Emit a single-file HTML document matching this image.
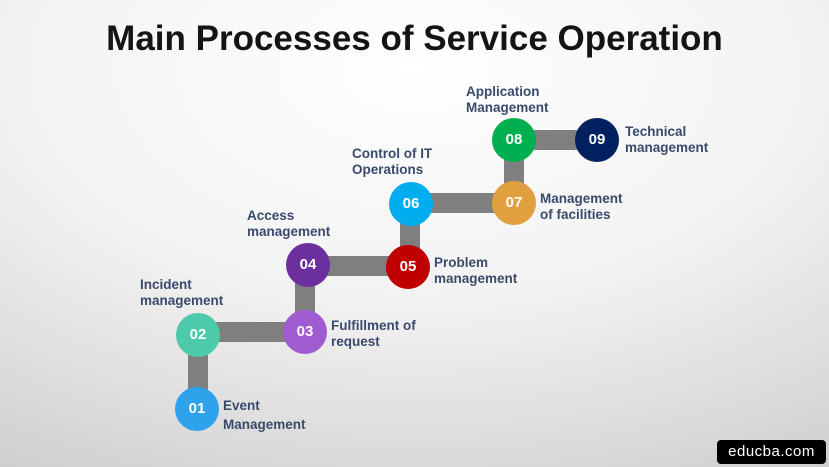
<!DOCTYPE html>
<html><head><style>
body{margin:0;width:829px;height:467px;overflow:hidden;font-family:"Liberation Sans",sans-serif;
background:radial-gradient(ellipse 900px 520px at 50% 15%,#ffffff 0%,#f2f2f2 45%,#d2d2d2 85%,#c6c6c6 100%);position:relative}
.t{position:absolute;top:19px;left:0;width:829px;text-align:center;font-weight:bold;font-size:35px;color:#141414;letter-spacing:0px}
.b{position:absolute;background:#7f7f7f}
.c{position:absolute;width:44px;height:44px;border-radius:50%;color:#fff;font-weight:bold;font-size:15px;line-height:44px;text-align:center}
.l{position:absolute;font-weight:bold;font-size:13.5px;color:#3b4a6b;line-height:16px}
.bd{position:absolute;left:717px;top:440px;width:109px;height:24px;background:#000;border-radius:4px;color:#fff;font-size:15px;line-height:24px;text-align:center;letter-spacing:0.5px}
</style></head><body>
<div class="t">Main Processes of Service Operation</div>
<div class="b" style="left:188px;top:335px;width:20px;height:74px"></div>
<div class="b" style="left:198px;top:322px;width:107px;height:20px"></div>
<div class="b" style="left:295px;top:265px;width:20px;height:67px"></div>
<div class="b" style="left:308px;top:256px;width:100px;height:20px"></div>
<div class="b" style="left:400px;top:204px;width:20px;height:63px"></div>
<div class="b" style="left:411px;top:193px;width:103px;height:20px"></div>
<div class="b" style="left:504px;top:140px;width:20px;height:63px"></div>
<div class="b" style="left:514px;top:130px;width:83px;height:20px"></div>
<div class="c" style="left:175px;top:387px;background:#2ea3ec">01</div>
<div class="c" style="left:176px;top:313px;background:#4ccaa9">02</div>
<div class="c" style="left:283px;top:310px;background:#a05bd0">03</div>
<div class="c" style="left:286px;top:243px;background:#6b2f9e">04</div>
<div class="c" style="left:386px;top:245px;background:#c00000">05</div>
<div class="c" style="left:389px;top:182px;background:#00aeef">06</div>
<div class="c" style="left:492px;top:181px;background:#e0a040">07</div>
<div class="c" style="left:492px;top:118px;background:#00b050">08</div>
<div class="c" style="left:575px;top:118px;background:#002060">09</div>
<div class="l" style="left:223px;top:396px;line-height:19px">Event<br>Management</div>
<div class="l" style="left:140px;top:277px">Incident<br>management</div>
<div class="l" style="left:331px;top:318px">Fulfillment of<br>request</div>
<div class="l" style="left:247px;top:208px">Access<br>management</div>
<div class="l" style="left:434px;top:255px">Problem<br>management</div>
<div class="l" style="left:352px;top:146px">Control of IT<br>Operations</div>
<div class="l" style="left:540px;top:191px">Management<br>of facilities</div>
<div class="l" style="left:466px;top:84px">Application<br>Management</div>
<div class="l" style="left:625px;top:124px">Technical<br>management</div>
<div class="bd">educba.com</div>
</body></html>
